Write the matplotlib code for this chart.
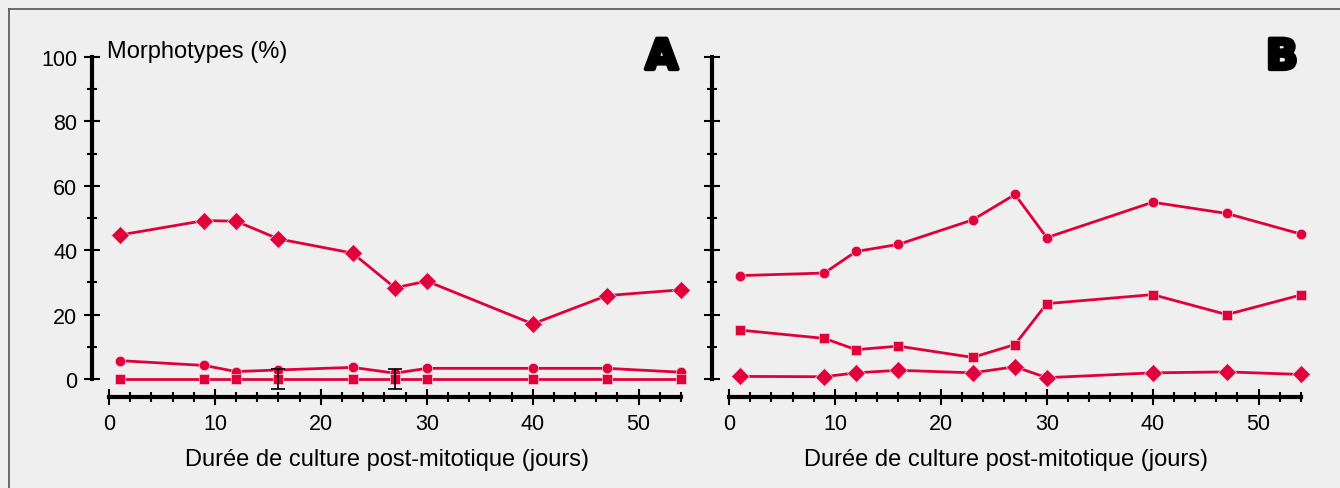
import matplotlib.pyplot as plt
import matplotlib.patheffects as pe
from matplotlib.ticker import MultipleLocator

plt.rcParams['font.family'] = ['Liberation Sans', 'DejaVu Sans']

days = [1, 9, 12, 16, 23, 27, 30, 40, 47, 54]

# panel A
a_diamond = [44.7, 49.2, 49.0, 43.5, 39.1, 28.3, 30.4, 17.1, 25.9, 27.7]
a_circle = [5.7, 4.2, 2.3, 2.8, 3.6, 1.8, 3.3, 3.3, 3.3, 2.1]
a_square = [0, 0, 0, 0, 0, 0, 0, 0, 0, 0]
a_err_days = [16, 27]
a_err_vals = [0, 0]
a_err = [3.2, 3.2]

# panel B
b_circle = [32.1, 32.9, 39.6, 41.8, 49.4, 57.3, 43.9, 54.9, 51.4, 45.0]
b_square = [15.2, 12.6, 9.1, 10.2, 6.7, 10.7, 23.4, 26.2, 20.0, 26.1]
b_diamond = [0.8, 0.7, 1.9, 2.7, 1.9, 3.8, 0.4, 1.9, 2.2, 1.4]

RED = '#e0003c'
BG = '#efefef'
xlabel = 'Durée de culture post-mitotique (jours)'

fig = plt.figure(figsize=(13.4, 4.89), dpi=100, facecolor=BG)

# frame (only left and top edges visible in the crop)
fig.add_artist(plt.Line2D([8.5/1340, 8.5/1340], [0, 1 - 9.5/489], color='#555555', lw=1.2))
fig.add_artist(plt.Line2D([8.5/1340, 1], [1 - 9.5/489, 1 - 9.5/489], color='#555555', lw=1.2))

axA = fig.add_axes([92/1340, 1 - 398/489, 589/1340, 340/489])
axB = fig.add_axes([712/1340, 1 - 398/489, 589/1340, 340/489])


def style(ax, show_ylabels):
    ax.set_facecolor(BG)
    ax.set_xlim(-1.6, 54)
    ax.set_ylim(-5.6, 100)
    for s in ['top', 'right']:
        ax.spines[s].set_visible(False)
    ax.spines['left'].set_bounds(0, 100)
    ax.spines['bottom'].set_bounds(0, 54)
    ax.spines['left'].set_linewidth(3)
    ax.spines['bottom'].set_linewidth(3)
    ax.xaxis.set_major_locator(MultipleLocator(10))
    ax.xaxis.set_minor_locator(MultipleLocator(2))
    ax.yaxis.set_major_locator(MultipleLocator(20))
    ax.yaxis.set_minor_locator(MultipleLocator(10))
    ax.tick_params(axis='both', which='major', direction='inout', width=1.5,
                   length=11, labelsize=15.5, pad=5)
    ax.tick_params(axis='both', which='minor', direction='inout', width=1.5, length=7.5)
    ax.tick_params(axis='x', which='major', pad=6)
    if not show_ylabels:
        ax.tick_params(axis='y', labelleft=False)
    ax.set_xlabel(xlabel, fontsize=17, labelpad=10)


def series(ax, y, marker, ms):
    ax.plot(days, y, color=RED, lw=2, marker=marker, ms=ms,
            mec='#f6d0d6', mew=0.5, clip_on=False, zorder=3)


def panel_letter(ax, letter):
    ax.text(53.7, 106.5, letter, fontsize=30, fontweight='bold', ha='right', va='top',
            family='DejaVu Sans',
            path_effects=[pe.withStroke(linewidth=3, foreground='black')])


style(axA, True)
series(axA, a_diamond, 'D', 9)
series(axA, a_circle, 'o', 7.5)
series(axA, a_square, 's', 7.5)
axA.errorbar(a_err_days, a_err_vals, yerr=a_err, fmt='none', ecolor='black',
             elinewidth=1.2, capsize=5, capthick=1.2, zorder=4, clip_on=False)
axA.text(-0.2, 102, 'Morphotypes (%)', fontsize=17, va='center', ha='left')
panel_letter(axA, 'A')

style(axB, False)
series(axB, b_circle, 'o', 7.5)
series(axB, b_square, 's', 7.5)
series(axB, b_diamond, 'D', 9)
panel_letter(axB, 'B')

plt.savefig('out.png', dpi=100, facecolor=BG)
